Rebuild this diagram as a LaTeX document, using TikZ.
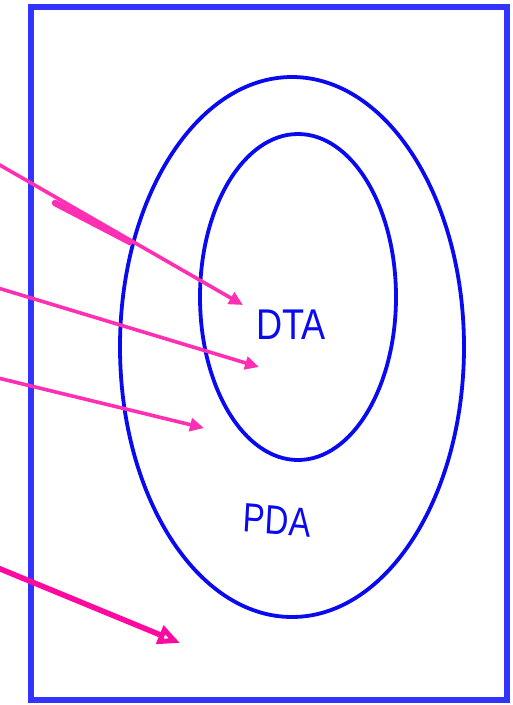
\documentclass[tikz,border=0pt]{standalone}
\usepackage{fontspec}
\setmainfont{Liberation Sans}
\usetikzlibrary{arrows.meta}
\definecolor{framecol}{HTML}{3333FF}
\definecolor{ellcol}{HTML}{0A0AF0}
\definecolor{arrcol}{HTML}{FF2FB4}
\definecolor{arrcolb}{HTML}{FF0AA0}
\tikzset{
  framebox/.style={draw=framecol, line width=6pt},
  set/.style={draw=ellcol, line width=3.8pt},
  ptr/.style={draw=arrcol, line width=3.6pt, -{Triangle[length=14pt,width=13pt]}},
  ptrbig/.style={draw=arrcolb, line width=5.5pt, -{Triangle[open,length=22pt,width=19pt,line width=5pt]}},
  lbl/.style={text=ellcol, inner sep=0pt}
}
\begin{document}
\begin{tikzpicture}[x=1pt,y=-1pt]
\useasboundingbox (0,0) rectangle (512,705);
\node[framebox, minimum width=476pt, minimum height=693pt, inner sep=0pt] (frame) at (269,353.5) {};
\draw[set] (292,347) ellipse [x radius=172, y radius=270];
\draw[set] (298,297) ellipse [x radius=98, y radius=163];
\node[lbl, xscale=0.84, font=\fontsize{43}{43}\selectfont] (dfa) at (291,325) {DTA};
\node[lbl, xscale=0.8, rotate=-4, font=\fontsize{41}{41}\selectfont] (pda) at (277,520) {PDA};
\coordinate (s1) at (-2,164);
\coordinate (e1) at (243,305);
\coordinate (s2) at (-2,288);
\coordinate (e2) at (259,367);
\coordinate (s3) at (-2,378);
\coordinate (e3) at (204,428);
\coordinate (s4) at (-2,568);
\coordinate (e4) at (180,643);
\coordinate (t1) at (55,203);
\coordinate (t2) at (130,242);
\draw[ptr] (s1) -- (e1);
\draw[draw=arrcol, line width=6.5pt, line cap=round] (t1) -- (t2);
\draw[ptr] (s2) -- (e2);
\draw[ptr] (s3) -- (e3);
\draw[ptrbig] (s4) -- (e4);
\end{tikzpicture}
\end{document}
